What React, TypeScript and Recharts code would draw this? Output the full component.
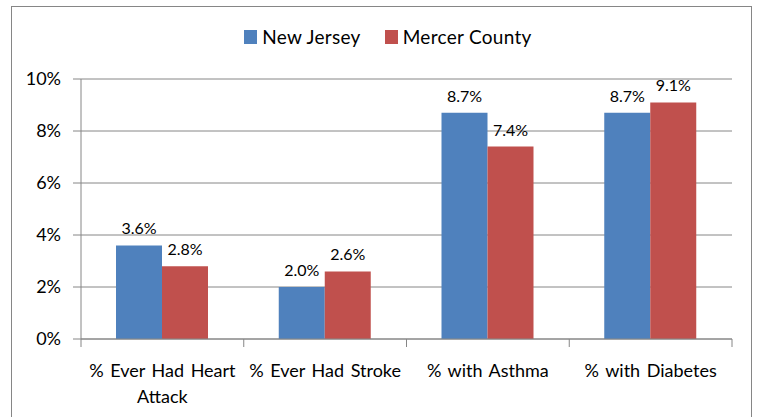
import { BarChart, Bar, CartesianGrid, XAxis, YAxis, Legend, LabelList, Text } from "recharts";

const categories = [
  "% Ever Had Heart Attack",
  "% Ever Had Stroke",
  "% with Asthma",
  "% with Diabetes",
];
const newJersey = [3.6, 2.0, 8.7, 8.7];
const mercerCounty = [2.8, 2.6, 7.4, 9.1];
const yTicks = [0, 2, 4, 6, 8, 10];

const FONT = "Lato, 'Open Sans', sans-serif";
const BLUE = "#4F81BD";
const RED = "#C0504D";
const GREY = "#868686";
const TICK_MARGIN = 25;

const data = categories.map((c, i) => ({
  categorie: c,
  nj: newJersey[i],
  mercer: mercerCounty[i],
}));

const pct = (v: number) => `${Number(v).toFixed(1)}%`;

// label + tick marks at category boundaries (Excel style)
function CategoryTick(props: any) {
  const { x, y, payload, index } = props;
  const half = Number(payload?.offset) || 0;
  const axisY = y - TICK_MARGIN;
  const last = index === categories.length - 1;
  return (
    <g>
      {half > 0 && (
        <line x1={x - half} x2={x - half} y1={axisY} y2={axisY + 8} stroke={GREY} />
      )}
      {half > 0 && last && (
        <line x1={x + half} x2={x + half} y1={axisY} y2={axisY + 8} stroke={GREY} />
      )}
      <Text
        x={x}
        y={y}
        width={162}
        textAnchor="middle"
        verticalAnchor="start"
        lineHeight={26}
        fontSize={18}
        fontFamily={FONT}
        fill="#000"
        style={{ fontSize: 18, fontFamily: FONT, wordSpacing: 2 }}
      >
        {payload.value}
      </Text>
    </g>
  );
}

function LegendContent() {
  const items = [
    { name: "New Jersey", color: BLUE },
    { name: "Mercer County", color: RED },
  ];
  return (
    <div style={{ display: "flex", justifyContent: "center", gap: 24, fontFamily: FONT, fontSize: 19, color: "#000" }}>
      {items.map((it) => (
        <div key={it.name} style={{ display: "flex", alignItems: "center", gap: 5 }}>
          <span style={{ width: 13, height: 14, background: it.color, display: "inline-block" }} />
          <span style={{ letterSpacing: 0.3 }}>{it.name}</span>
        </div>
      ))}
    </div>
  );
}

export default function App() {
  return (
    <div style={{ position: "absolute", left: 0, top: 0, width: 760, height: 417, overflow: "hidden", background: "#fff" }}>
      <div
        style={{
          position: "absolute",
          left: 11,
          top: 6,
          width: 741,
          height: 430,
          border: `1px solid ${GREY}`,
          boxSizing: "border-box",
        }}
      />
      <div style={{ position: "absolute", left: 0, top: 0 }}>
        <BarChart
          width={760}
          height={417}
          data={data}
          margin={{ top: 79, right: 28, bottom: 18, left: 0 }}
          barCategoryGap={35}
          barGap={0}
        >
          <CartesianGrid vertical={false} stroke={GREY} strokeWidth={1} />
          <XAxis
            dataKey="categorie"
            tick={<CategoryTick />}
            tickLine={false}
            tickSize={0}
            tickMargin={TICK_MARGIN}
            axisLine={{ stroke: GREY }}
            interval={0}
            height={60}
          />
          <YAxis
            domain={[0, 10]}
            ticks={yTicks}
            tickFormatter={(v) => `${v}%`}
            width={81}
            tickSize={8}
            tickMargin={12}
            axisLine={{ stroke: GREY }}
            tickLine={{ stroke: GREY }}
            tick={{ fill: "#000", fontSize: 18, fontFamily: FONT }}
          />
          <Legend
            layout="horizontal"
            verticalAlign="middle"
            align="center"
            content={<LegendContent />}
            wrapperStyle={{ top: 25, left: 8, width: 760 }}
          />
          <Bar dataKey="nj" name="New Jersey" fill={BLUE} isAnimationActive={false}>
            <LabelList dataKey="nj" position="top" offset={11} formatter={pct as any} fill="#000" fontSize={16} fontFamily={FONT} />
          </Bar>
          <Bar dataKey="mercer" name="Mercer County" fill={RED} isAnimationActive={false}>
            <LabelList dataKey="mercer" position="top" offset={11} formatter={pct as any} fill="#000" fontSize={16} fontFamily={FONT} />
          </Bar>
        </BarChart>
      </div>
    </div>
  );
}
